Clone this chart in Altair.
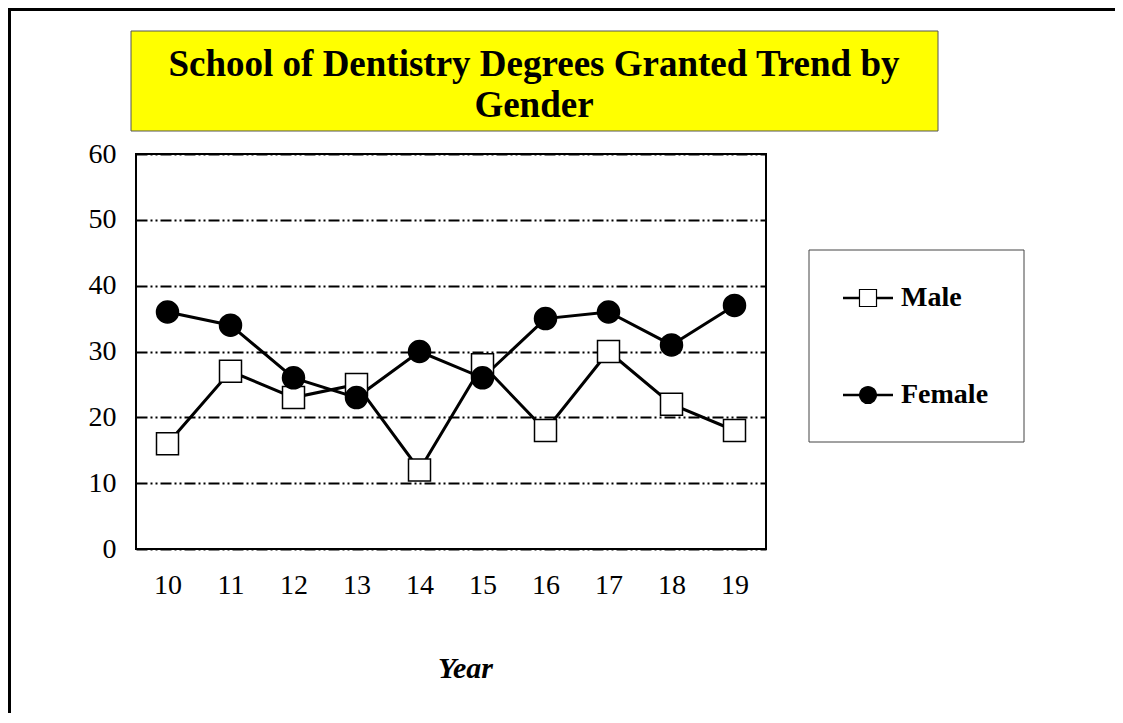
import altair as alt
import pandas as pd

# ---- data ----
years = ["10", "11", "12", "13", "14", "15", "16", "17", "18", "19"]
male = [16, 27, 23, 25, 12, 28, 18, 30, 22, 18]
female = [36, 34, 26, 23, 30, 26, 35, 36, 31, 37]
series = ["Male", "Female"]
title_lines = ["School of Dentistry Degrees Granted Trend by", "Gender"]
y_ticks = [0, 10, 20, 30, 40, 50, 60]
x_title = "Year"

rows = []
for g, vals in zip(series, [male, female]):
    for yr, v in zip(years, vals):
        rows.append({"Year": yr, "Gender": g, "Value": v})
df = pd.DataFrame(rows)
one = pd.DataFrame({"k": [0]})

W, H = 630, 395
SERIF = "Liberation Serif"

x_enc = alt.X(
    "Year:O", sort=years,
    scale=alt.Scale(type="point", padding=0.5),
    axis=alt.Axis(title=x_title, labelAngle=0, ticks=False, domain=False,
                  labelFont=SERIF, labelFontSize=28, labelColor="black", labelPadding=22,
                  titleFont=SERIF, titleFontSize=30, titleFontStyle="italic",
                  titleFontWeight="bold", titleColor="black", titlePadding=54,
                  titleX=329),
)
y_enc = alt.Y(
    "Value:Q",
    scale=alt.Scale(domain=[0, 60], nice=False),
    axis=alt.Axis(title=None, values=y_ticks, ticks=False, domain=False,
                  labelFont=SERIF, labelFontSize=28, labelColor="black", labelPadding=20,
                  grid=True, gridColor="black", gridWidth=2, gridDash=[11, 3, 2, 3, 2, 3],
                  gridOpacity=1),
)

base = alt.Chart(df)
lines = base.mark_line(color="black", strokeWidth=3).encode(
    x=x_enc, y=y_enc, detail="Gender:N"
)
points = base.mark_point(filled=False, stroke="black", strokeWidth=1.5, size=484, opacity=1).encode(
    x=alt.X("Year:O", sort=years),
    y="Value:Q",
    shape=alt.Shape("Gender:N", scale=alt.Scale(domain=series, range=["square", "circle"]), legend=None),
    fill=alt.Fill("Gender:N", scale=alt.Scale(domain=series, range=["white", "black"]), legend=None),
)

# ---- title box ----
title_rect = alt.Chart(one).mark_rect(fill="#ffff00", stroke="#555555", strokeWidth=1).encode(
    x=alt.value(-5), x2=alt.value(802), y=alt.value(-123), y2=alt.value(-23)
)
title_layers = []
for i, line in enumerate(title_lines):
    title_layers.append(
        alt.Chart(one).mark_text(text=line, font=SERIF, fontSize=37, fontWeight="bold",
                                 color="black", align="center", baseline="middle").encode(
            x=alt.value(398), y=alt.value(-89 + i * 41)
        )
    )

# ---- legend ----
legend_rect = alt.Chart(one).mark_rect(fill="white", stroke="#444444", strokeWidth=1).encode(
    x=alt.value(673), x2=alt.value(888), y=alt.value(96), y2=alt.value(288)
)
legend_layers = [legend_rect]
shapes = ["square", "circle"]
fills = ["white", "black"]
for i, name in enumerate(series):
    ly = 144 + i * 97
    legend_layers.append(
        alt.Chart(one).mark_rule(color="black", strokeWidth=2.5).encode(
            x=alt.value(707), x2=alt.value(757), y=alt.value(ly)
        )
    )
    legend_layers.append(
        alt.Chart(one).mark_point(shape=shapes[i], fill=fills[i], filled=True, stroke="black",
                                  strokeWidth=1.2, size=290, opacity=1).encode(
            x=alt.value(732), y=alt.value(ly)
        )
    )
    legend_layers.append(
        alt.Chart(one).mark_text(text=name, font=SERIF, fontSize=28, fontWeight="bold",
                                 color="black", align="left", baseline="middle").encode(
            x=alt.value(765), y=alt.value(ly)
        )
    )

# ---- outer frame (left and top) ----
frame_left = alt.Chart(one).mark_rule(color="black", strokeWidth=3).encode(
    x=alt.value(-126.5), y=alt.value(-146), y2=alt.value(H + 200)
)
frame_top = alt.Chart(one).mark_rule(color="black", strokeWidth=3).encode(
    x=alt.value(-128), x2=alt.value(W + 360), y=alt.value(-144.5)
)

chart = alt.layer(
    frame_left, frame_top, title_rect, *title_layers,
    lines, points, *legend_layers
).properties(
    width=W, height=H,
    autosize=alt.AutoSizeParams(type="none"),
    padding={"left": 128, "top": 146, "right": 349, "bottom": 164},
    background="white",
).configure_view(
    stroke="black", strokeWidth=2
)

chart.save("out.html", embed_options={"renderer": "svg", "actions": False})
